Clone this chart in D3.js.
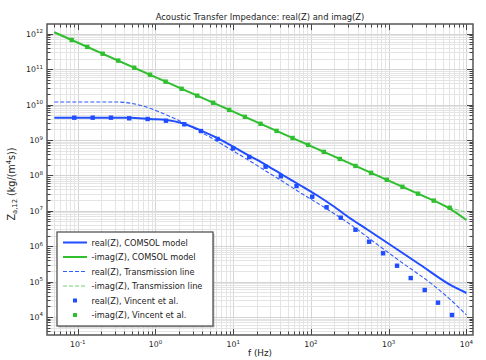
<!DOCTYPE html>
<html><head><meta charset="utf-8">
<script src="https://cdn.jsdelivr.net/npm/d3@7"></script>
<style>body{margin:0;background:#fff}svg{display:block}</style>
</head><body>
<svg id="c" width="486" height="360"></svg>
<script>
// ---- data ----
const xTickExp = [-1, 0, 1, 2, 3, 4];
const yTickExp = [4, 5, 6, 7, 8, 9, 10, 11, 12];

const fRealComsol = [0.05, 0.47, 0.849, 1.393, 2.275, 3.733, 6.12, 10.0, 16.4, 26.9, 44.0, 71.9, 118, 193, 316, 519, 847, 2512, 6730, 10000];
const zRealComsol = [4.27e9, 4.27e9, 3.92e9, 3.67e9, 2.92e9, 1.91e9, 1.16e9, 6.47e8, 3.53e8, 1.93e8, 1.01e8, 5.36e7, 2.79e7, 1.37e7, 6.27e6, 3.06e6, 1.50e6, 3.04e5, 7.3e4, 4.77e4];

const fImagComsol = [0.05, 1, 100, 1000, 3000, 4539, 6100, 10000];
const zImagComsol = [1.107e12, 5.97e10, 6.71e8, 7.11e7, 2.44e7, 1.63e7, 1.16e7, 5.50e6];

const fRealTL = [0.05, 0.317, 0.546, 0.849, 1.393, 2.275, 3.733, 6.12, 10.0, 16.4, 26.9, 44.0, 71.9, 118, 193, 316, 519, 847, 1387, 3724, 6730, 10000];
const zRealTL = [1.18e10, 1.18e10, 1.04e10, 7.85e9, 5.08e9, 3.12e9, 1.74e9, 9.38e8, 4.89e8, 2.55e8, 1.29e8, 6.64e7, 3.31e7, 1.71e7, 8.67e6, 4.24e6, 1.89e6, 8.49e5, 3.82e5, 8.02e4, 2.65e4, 1.14e4];

const fImagTL = [0.05, 1, 100, 1000, 3000, 4539, 6100, 10000];
const zImagTL = [1.107e12, 5.97e10, 6.71e8, 7.11e7, 2.44e7, 1.63e7, 1.23e7, 9.25e6];

const fRealVincent = [0.0904, 0.156, 0.268, 0.460, 0.794, 1.365, 2.35, 3.85, 6.30, 10.0, 16.1, 26.1, 41.0, 65.3, 104, 159, 242, 374, 560, 847, 1282, 1923, 2910, 4315, 6530];
const zRealVincent = [4.27e9, 4.27e9, 4.27e9, 4.10e9, 3.92e9, 3.51e9, 2.78e9, 1.79e9, 1.07e9, 5.82e8, 3.31e8, 1.76e8, 9.44e7, 5.01e7, 2.50e7, 1.26e7, 6.38e6, 2.92e6, 1.34e6, 6.31e5, 2.81e5, 1.26e5, 5.79e4, 2.54e4, 1.14e4];

const fImagVincent = [0.0837, 0.1328, 0.2096, 0.3325, 0.534, 0.850, 1.352, 2.172, 3.446, 5.533, 8.884, 14.14, 22.50, 36.13, 58.00, 92.0, 146.5, 235.2, 374.4, 594, 945.4, 1504, 2388, 3799, 6100];
const zImagVincent = [6.70e11, 4.27e11, 2.74e11, 1.75e11, 1.10e11, 7.00e10, 4.45e10, 2.80e10, 1.79e10, 1.13e10, 7.10e9, 4.52e9, 2.87e9, 1.81e9, 1.14e9, 7.28e8, 4.63e8, 2.92e8, 1.85e8, 1.18e8, 7.52e7, 4.78e7, 3.05e7, 1.94e7, 1.22e7];

const legendLabels = ["real(Z), COMSOL model", "-imag(Z), COMSOL model", "real(Z), Transmission line", "-imag(Z), Transmission line", "real(Z), Vincent et al.", "-imag(Z), Vincent et al."];

// ---- layout ----
const BLUE = "#1f4dff", GREEN = "#2fbf2f", BLUE_D = "#2f5cff", GREEN_D = "#6fd46f";
const FONT = "DejaVu Sans, Verdana, sans-serif";
const L = 47, R = 473, T = 24, B = 335;
const svg = d3.select("#c");
const x = d3.scaleLog().domain([0.0403, 12160]).range([L, R]);
const y = d3.scaleLog().domain([3101, 1.892e12]).range([B, T]);

function minors(scale) {
  const [a, b] = scale.domain();
  const out = [];
  for (let e = Math.floor(Math.log10(a)); e <= Math.ceil(Math.log10(b)); e++)
    for (let k = 1; k <= 9; k++) {
      const v = k * Math.pow(10, e);
      if (v >= a && v <= b) out.push({v, major: k === 1});
    }
  return out;
}
const xt = minors(x), yt = minors(y);
const px = v => Math.round(x(v)) + 0.5, py = v => Math.round(y(v)) + 0.5;

// grid
const g = svg.append("g");
g.selectAll(".gx").data(xt).join("line")
  .attr("x1", d => px(d.v)).attr("x2", d => px(d.v)).attr("y1", T).attr("y2", B)
  .attr("stroke", d => d.major ? "#d4d4d4" : "#e4e4e4").attr("stroke-width", 1);
g.selectAll(".gy").data(yt).join("line")
  .attr("y1", d => py(d.v)).attr("y2", d => py(d.v)).attr("x1", L).attr("x2", R)
  .attr("stroke", d => d.major ? "#d4d4d4" : "#e4e4e4").attr("stroke-width", 1);

// curves
const line = (fs, zs) => d3.line().x(d => x(d[0])).y(d => y(d[1])).curve(d3.curveMonotoneX)(fs.map((f, i) => [f, zs[i]]));
svg.append("clipPath").attr("id", "cp").append("rect").attr("x", L).attr("y", T).attr("width", R - L).attr("height", B - T);
const pg = svg.append("g").attr("clip-path", "url(#cp)");
pg.append("path").attr("d", line(fImagTL, zImagTL)).attr("fill", "none").attr("stroke", GREEN_D).attr("stroke-width", 1.1).attr("stroke-dasharray", "4,2");
pg.append("path").attr("d", line(fImagComsol, zImagComsol)).attr("fill", "none").attr("stroke", GREEN).attr("stroke-width", 2);
pg.append("path").attr("d", line(fRealTL, zRealTL)).attr("fill", "none").attr("stroke", BLUE_D).attr("stroke-width", 1.1).attr("stroke-dasharray", "4,2");
pg.append("path").attr("d", line(fRealComsol, zRealComsol)).attr("fill", "none").attr("stroke", BLUE).attr("stroke-width", 2);
const S = 4.4;
pg.selectAll(".mb").data(fRealVincent.map((f, i) => [f, zRealVincent[i]])).join("rect")
  .attr("x", d => x(d[0]) - S / 2).attr("y", d => y(d[1]) - S / 2).attr("width", S).attr("height", S).attr("fill", BLUE);
pg.selectAll(".mg").data(fImagVincent.map((f, i) => [f, zImagVincent[i]])).join("rect")
  .attr("x", d => x(d[0]) - S / 2).attr("y", d => y(d[1]) - S / 2).attr("width", S).attr("height", S).attr("fill", GREEN);

// ticks (inside, all four sides)
const tk = svg.append("g").attr("stroke", "#444").attr("stroke-width", 1);
tk.selectAll(".tb").data(xt).join("line").attr("x1", d => px(d.v)).attr("x2", d => px(d.v)).attr("y1", B).attr("y2", d => B - (d.major ? 6 : 3.5));
tk.selectAll(".tt").data(xt).join("line").attr("x1", d => px(d.v)).attr("x2", d => px(d.v)).attr("y1", T).attr("y2", d => T + (d.major ? 6 : 3.5));
tk.selectAll(".tl").data(yt).join("line").attr("y1", d => py(d.v)).attr("y2", d => py(d.v)).attr("x1", L).attr("x2", d => L + (d.major ? 6 : 3.5));
tk.selectAll(".tr").data(yt).join("line").attr("y1", d => py(d.v)).attr("y2", d => py(d.v)).attr("x1", R).attr("x2", d => R - (d.major ? 6 : 3.5));

// frame
svg.append("rect").attr("x", L).attr("y", T).attr("width", R - L).attr("height", B - T)
  .attr("fill", "none").attr("stroke", "#555").attr("stroke-width", 1.5);

// tick labels
const xl = svg.append("g").attr("font-family", FONT).attr("font-size", 7.8).attr("fill", "#222");
xTickExp.forEach(e => {
  const t = xl.append("text").attr("x", x(Math.pow(10, e))).attr("y", 347).attr("text-anchor", "middle");
  t.append("tspan").text("10");
  t.append("tspan").attr("dy", -3.5).attr("font-size", 5.5).text(e);
});
yTickExp.forEach(e => {
  const t = xl.append("text").attr("x", 43).attr("y", y(Math.pow(10, e)) + 3).attr("text-anchor", "end");
  t.append("tspan").text("10");
  t.append("tspan").attr("dy", -3.5).attr("font-size", 5.5).text(e);
});

// titles
svg.append("text").attr("x", 260).attr("y", 20).attr("text-anchor", "middle").attr("font-family", FONT).attr("font-size", 8.4).attr("fill", "#222")
  .text("Acoustic Transfer Impedance: real(Z) and imag(Z)");
svg.append("text").attr("x", 260).attr("y", 356).attr("text-anchor", "middle").attr("font-family", FONT).attr("font-size", 8.8).attr("fill", "#222")
  .text("f (Hz)");
const yl = svg.append("text").attr("transform", "translate(15,184) rotate(-90)").attr("text-anchor", "middle").attr("font-family", FONT).attr("font-size", 9.6).attr("fill", "#222");
yl.append("tspan").text("Z");
yl.append("tspan").attr("dy", 2.2).attr("font-size", 6.8).text("a,12");
yl.append("tspan").attr("dy", -2.2).text(" (kg/(m");
yl.append("tspan").attr("dy", -4).attr("font-size", 6.8).text("4");
yl.append("tspan").attr("dy", 4).text("s))");

// legend
const lg = svg.append("g");
lg.append("rect").attr("x", 58.5).attr("y", 233.5).attr("width", 156).attr("height", 94).attr("fill", "#999").attr("opacity", 0.6);
lg.append("rect").attr("x", 57).attr("y", 232).attr("width", 156).attr("height", 94).attr("fill", "#fff").attr("stroke", "#555").attr("stroke-width", 1.3);
const styles = [
  {type: "line", c: BLUE, w: 2, dash: null},
  {type: "line", c: GREEN, w: 2, dash: null},
  {type: "line", c: BLUE_D, w: 1.1, dash: "4,2"},
  {type: "line", c: GREEN_D, w: 1.1, dash: "4,2"},
  {type: "sq", c: BLUE},
  {type: "sq", c: GREEN}
];
legendLabels.forEach((lab, i) => {
  const cy = 242.5 + i * 14.5;
  const st = styles[i];
  if (st.type === "line") {
    lg.append("line").attr("x1", 63).attr("x2", 87).attr("y1", cy).attr("y2", cy).attr("stroke", st.c).attr("stroke-width", st.w).attr("stroke-dasharray", st.dash);
  } else {
    lg.append("rect").attr("x", 75 - 2).attr("y", cy - 2).attr("width", 4).attr("height", 4).attr("fill", st.c);
  }
  lg.append("text").attr("x", 91.5).attr("y", cy + 3).attr("font-family", FONT).attr("font-size", 8.2).attr("fill", "#222").text(lab);
});
</script>
</body></html>
